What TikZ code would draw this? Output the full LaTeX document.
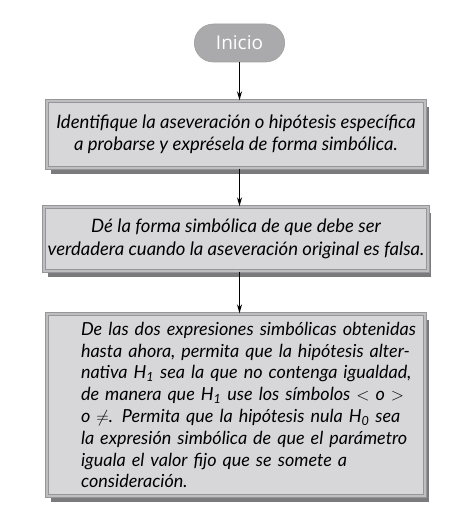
\documentclass[tikz,border=0pt]{standalone}
\usepackage{fontspec}
\setmainfont{Lato}
\newfontfamily\pillfont{Open Sans}
\usetikzlibrary{arrows.meta, positioning, shapes.misc, shadows}
\definecolor{boxgray}{RGB}{215,215,217}
\definecolor{rimgray}{RGB}{150,150,153}
\definecolor{rimlight}{RGB}{190,190,193}
\definecolor{shadegray}{RGB}{122,122,124}
\definecolor{pillgray}{RGB}{170,170,172}

\newcommand{\tightlines}{\lineskiplimit=-20pt\relax}

\tikzset{
  stepbox/.style={draw=rimgray, line width=1.4pt, double=rimlight,
    double distance=1.6pt, fill=boxgray,
    minimum width=378pt, align=center,
    font=\fontsize{18.5}{22.5}\selectfont\itshape,
    drop shadow={shadow xshift=3.5pt, shadow yshift=-6pt,
      fill=shadegray, opacity=1}},
  startpill/.style={rounded rectangle, fill=pillgray, draw=gray!75,
    line width=0.6pt, minimum width=97pt, minimum height=38pt,
    text=white, font=\pillfont\fontsize{19}{21}\selectfont},
  flowarrow/.style={-{Stealth[length=9pt,width=5pt]}, line width=1.1pt}
}

\begin{document}
\begin{tikzpicture}[x=1pt, y=-1pt]
\useasboundingbox (0,0) rectangle (473,529);

% ---- start ----
\node[startpill] (inicio) at (239.5,43) {Inicio};

% ---- steps ----
\node[stepbox, minimum height=67pt] (ident) at (236,134.5)
  {\tightlines
   Identifique la aseveración o hipótesis específica\\
   a probarse y exprésela de forma simbólica.};
\node[stepbox, minimum height=64pt] (forma) at (236,239)
  {\tightlines
   Dé la forma simbólica de que debe ser\\
   verdadera cuando la aseveración original es falsa.};
\node[stepbox, minimum height=182pt, align=left, text width=378pt,
      inner xsep=0pt, font=\fontsize{18}{21.8}\selectfont\itshape]
      (hipo) at (236,405)
  {\tightlines\leftskip=34pt \rightskip=-20pt plus 1fil
   De las dos expresiones simbólicas obtenidas\\
   hasta ahora, permita que la hipótesis alter-\\
   nativa H\textsubscript{1} sea la que no contenga igualdad,\\
   de manera que H\textsubscript{1} use los símbolos $<$ o $>$\\
   o $\neq$. Permita que la hipótesis nula H\textsubscript{0} sea\\
   la expresión simbólica de que el parámetro\\
   iguala el valor fijo que se somete a\\
   consideración.\par\vspace*{18pt}};

% ---- arrows ----
\draw[flowarrow] (inicio.south) -- (inicio.south |- ident.north);
\draw[flowarrow] (inicio.south |- ident.south) -- (inicio.south |- forma.north);
\draw[flowarrow] (inicio.south |- forma.south) -- (inicio.south |- hipo.north);

\end{tikzpicture}
\end{document}
